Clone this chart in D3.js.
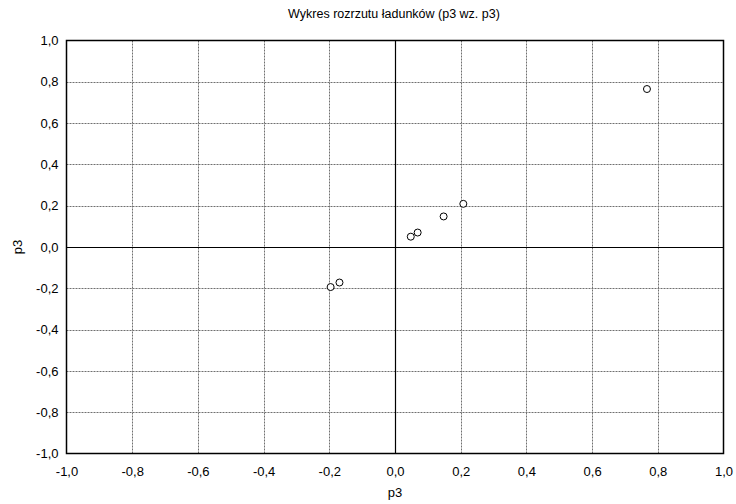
<!DOCTYPE html>
<html>
<head>
<meta charset="utf-8">
<script src="https://cdn.jsdelivr.net/npm/d3@7"></script>
<style>
  body { margin: 0; background: #fff; }
  svg { display: block; font-family: "Liberation Sans", Arial, sans-serif; }
</style>
</head>
<body>
<svg id="chart" width="736" height="504"></svg>
<script>
const title = "Wykres rozrzutu ładunków (p3 wz. p3)";
const xLabel = "p3";
const yLabel = "p3";
const xValues = [0.767, 0.208, 0.148, 0.069, 0.048, -0.169, -0.196];
const yValues = [0.765, 0.209, 0.148, 0.070, 0.050, -0.172, -0.194];
const tickValues = [-1.0, -0.8, -0.6, -0.4, -0.2, 0.0, 0.2, 0.4, 0.6, 0.8, 1.0];

const svg = d3.select("#chart");
const margin = { left: 66.5, right: 12.5, top: 40.5, bottom: 50.5 };
const W = 736, H = 504;
const x = d3.scaleLinear().domain([-1, 1]).range([margin.left, W - margin.right]);
const y = d3.scaleLinear().domain([-1, 1]).range([H - margin.bottom, margin.top]);
const fmt = v => d3.format(".1f")(v).replace(".", ",").replace("−", "-");

// grid
const grid = svg.append("g");
grid.selectAll("line.vx").data(tickValues.filter(v => v !== 0 && Math.abs(v) !== 1)).enter()
  .append("line")
  .attr("x1", d => Math.round(x(d)) + 0.5).attr("x2", d => Math.round(x(d)) + 0.5)
  .attr("y1", y(1)).attr("y2", y(-1))
  .attr("stroke", "#707070").attr("stroke-width", 1).attr("stroke-dasharray", "2,1");
grid.selectAll("line.hy").data(tickValues.filter(v => v !== 0 && Math.abs(v) !== 1)).enter()
  .append("line")
  .attr("y1", d => Math.round(y(d)) + 0.5).attr("y2", d => Math.round(y(d)) + 0.5)
  .attr("x1", x(-1)).attr("x2", x(1))
  .attr("stroke", "#707070").attr("stroke-width", 1).attr("stroke-dasharray", "2,1");

// zero lines
svg.append("line").attr("x1", Math.round(x(0)) + 0.5).attr("x2", Math.round(x(0)) + 0.5)
  .attr("y1", y(1)).attr("y2", y(-1)).attr("stroke", "#000").attr("stroke-width", 1.2);
svg.append("line").attr("y1", Math.round(y(0)) + 0.5).attr("y2", Math.round(y(0)) + 0.5)
  .attr("x1", x(-1)).attr("x2", x(1)).attr("stroke", "#000").attr("stroke-width", 1.2);

// frame
svg.append("rect").attr("x", x(-1)).attr("y", y(1))
  .attr("width", x(1) - x(-1)).attr("height", y(-1) - y(1))
  .attr("fill", "none").attr("stroke", "#000").attr("stroke-width", 1.5);

// axes (labels only)
const xAxis = d3.axisBottom(x).tickValues(tickValues).tickFormat(fmt).tickSize(0).tickPadding(13);
const gx = svg.append("g").attr("transform", `translate(0,${y(-1)})`).call(xAxis);
gx.select(".domain").remove();
gx.selectAll("text").attr("font-size", 13).attr("fill", "#000").attr("font-family", "Liberation Sans, Arial, sans-serif");

const yAxis = d3.axisLeft(y).tickValues(tickValues).tickFormat(fmt).tickSize(0).tickPadding(8);
const gy = svg.append("g").attr("transform", `translate(${x(-1)},0)`).call(yAxis);
gy.select(".domain").remove();
gy.selectAll("text").attr("font-size", 13).attr("fill", "#000").attr("font-family", "Liberation Sans, Arial, sans-serif");

// points
svg.append("g").selectAll("circle").data(xValues.map((v, i) => [v, yValues[i]])).enter()
  .append("circle")
  .attr("cx", d => x(d[0])).attr("cy", d => y(d[1])).attr("r", 3.5)
  .attr("fill", "#fff").attr("stroke", "#000").attr("stroke-width", 1);

// labels
svg.append("text").attr("x", 394).attr("y", 18).attr("text-anchor", "middle")
  .attr("font-size", 12.5).text(title);
svg.append("text").attr("x", x(0)).attr("y", 497).attr("text-anchor", "middle")
  .attr("font-size", 13).text(xLabel);
svg.append("text").attr("transform", `translate(22,${y(0)}) rotate(-90)`).attr("text-anchor", "middle")
  .attr("font-size", 13).text(yLabel);
</script>
</body>
</html>
